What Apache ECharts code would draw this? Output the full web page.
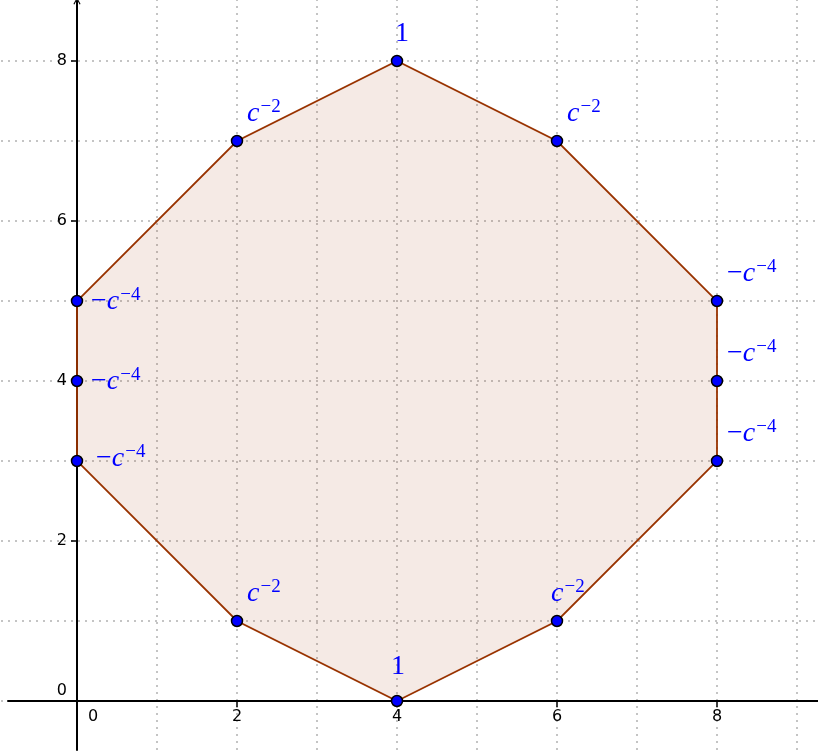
<!DOCTYPE html>
<html>
<head>
    <meta charset="utf-8">
    <title>octagon</title>
    <script src="https://cdn.jsdelivr.net/npm/echarts@6/dist/echarts.min.js"></script>
    <style>
        html, body { margin: 0; padding: 0; background: #fff; }
        #container { width: 818px; height: 755px; }
    </style>
</head>
<body>
<div id="container"></div>
<script>
    // vertices of the polygon, counter-clockwise from the bottom one
    var xs = [4, 6, 8, 8, 8, 6, 4, 2, 0, 0, 0, 2];
    var ys = [0, 1, 3, 4, 5, 7, 8, 7, 5, 4, 3, 1];
    var labels = ['1', 'c^-2', '-c^-4', '-c^-4', '-c^-4', 'c^-2', '1', 'c^-2', '-c^-4', '-c^-4', '-c^-4', 'c^-2'];
    var xTicks = [0, 2, 4, 6, 8];
    var yTicks = [0, 2, 4, 6, 8];

    // where each label sits relative to its point (px)
    var nudge = [[-6, -20], [-6, -13], [10, -13], [10, -13], [10, -13], [10, -13],
                 [-2, -13], [10, -13], [14, 15], [14, 15], [19, 12], [10, -13]];

    function richLabel(s) {
        if (s.indexOf('^') < 0) return '{n|' + s + '}';
        var parts = s.split('^');
        var base = parts[0], neg = '';
        if (base.charAt(0) == '-') { neg = '{n|\u2212}'; base = base.slice(1); }
        return neg + '{c|' + base + '}{s|' + parts[1].replace('-', '\u2212') + '}';
    }

    var blue = '#0000ff';
    var rich = {
        n: {fontFamily: 'Liberation Serif', fontSize: 28, lineHeight: 30, color: blue, verticalAlign: 'bottom'},
        c: {fontFamily: 'Liberation Serif', fontStyle: 'italic', fontSize: 28, lineHeight: 30, color: blue, verticalAlign: 'bottom', padding: [0, 1, 0, 0]},
        s: {fontFamily: 'Liberation Serif', fontSize: 19, lineHeight: 12, color: blue, verticalAlign: 'top'}
    };

    var dots = {type: [2, 5], color: '#c4c4c4', width: 2};
    var tickFont = {fontFamily: 'DejaVu Sans', fontSize: 16, color: '#000'};
    var pts = xs.map(function (x, i) { return [x, ys[i]]; });

    function zeroLabel(pad) {
        return {
            formatter: function (v) { return v === 0 ? '{z|0}' : String(v); },
            rich: {z: {fontFamily: tickFont.fontFamily, fontSize: tickFont.fontSize, color: tickFont.color, padding: pad}}
        };
    }

    var option = {
        animation: false,
        grid: [
            // 0: data + dotted grid, 80 px per unit, origin at (77, 701)
            {left: -83, top: -99, width: 960, height: 960, outerBoundsMode: 'none'},
            // 1: tick marks and labels, from the origin to 8
            {left: 77, top: 61, width: 640, height: 640, outerBoundsMode: 'none'},
            // 2: the axis lines across the visible area
            {left: 8, right: 0, top: 1, bottom: 5, outerBoundsMode: 'none'}
        ],
        xAxis: [
            {
                gridIndex: 0, type: 'value', min: -2, max: 10, interval: 2,
                axisLine: {show: false}, axisTick: {show: false}, axisLabel: {show: false},
                splitLine: {show: true, lineStyle: dots},
                minorTick: {show: false, splitNumber: 2},
                minorSplitLine: {show: true, lineStyle: dots}
            },
            {
                gridIndex: 1, type: 'value', min: xTicks[0], max: xTicks[xTicks.length - 1], interval: 2,
                axisLine: {show: false, onZero: false},
                axisTick: {show: true, length: 6, lineStyle: {color: '#000', width: 1.5}},
                axisLabel: Object.assign({margin: 8}, tickFont, zeroLabel([0, 0, 0, 32])),
                splitLine: {show: false}
            },
            {
                gridIndex: 2, type: 'value', min: -0.8625, max: 9.2625,
                axisLine: {show: true, onZero: true, lineStyle: {color: '#000', width: 2}},
                axisTick: {show: false}, axisLabel: {show: false}, splitLine: {show: false}
            }
        ],
        yAxis: [
            {
                gridIndex: 0, type: 'value', min: -2, max: 10, interval: 2,
                axisLine: {show: false}, axisTick: {show: false}, axisLabel: {show: false},
                splitLine: {show: true, lineStyle: dots},
                minorTick: {show: false, splitNumber: 2},
                minorSplitLine: {show: true, lineStyle: dots}
            },
            {
                gridIndex: 1, type: 'value', min: yTicks[0], max: yTicks[yTicks.length - 1], interval: 2,
                axisLine: {show: false, onZero: false},
                axisTick: {show: true, length: 6, lineStyle: {color: '#000', width: 1.5}},
                axisLabel: Object.assign({margin: 10}, tickFont, zeroLabel([0, 0, 20, 0])),
                splitLine: {show: false}
            },
            {
                gridIndex: 2, type: 'value', min: -0.6125, max: 8.75,
                axisLine: {
                    show: true, onZero: true,
                    symbol: ['none', 'path://M0 9 L5 0 L10 9 L8.6 9.8 L5 2.8 L1.4 9.8 Z'],
                    symbolSize: [11, 7],
                    lineStyle: {color: '#000', width: 2}
                },
                axisTick: {show: false}, axisLabel: {show: false}, splitLine: {show: false}
            }
        ],
        series: [
            {
                type: 'custom',
                xAxisIndex: 0, yAxisIndex: 0,
                data: pts,
                silent: true,
                renderItem: function (params, api) {
                    if (params.dataIndex !== 0) return null;
                    var poly = pts.map(function (p) { return api.coord(p); });
                    return {
                        type: 'polygon',
                        shape: {points: poly},
                        style: {fill: 'rgba(153,51,0,0.1)', stroke: '#993300', lineWidth: 1.8}
                    };
                },
                z: 3
            },
            {
                type: 'scatter',
                xAxisIndex: 0, yAxisIndex: 0,
                symbolSize: 11,
                itemStyle: {color: blue, borderColor: '#000', borderWidth: 1.5, opacity: 1},
                data: pts.map(function (p, i) {
                    return {
                        value: p,
                        label: {
                            show: true,
                            position: 'inside',
                            align: 'left',
                            verticalAlign: 'bottom',
                            offset: nudge[i],
                            formatter: richLabel(labels[i]),
                            rich: rich
                        }
                    };
                }),
                emphasis: {disabled: true},
                z: 5
            }
        ]
    };

    var myChart = echarts.init(document.getElementById('container'));
    myChart.setOption(option);
</script>
</body>
</html>
